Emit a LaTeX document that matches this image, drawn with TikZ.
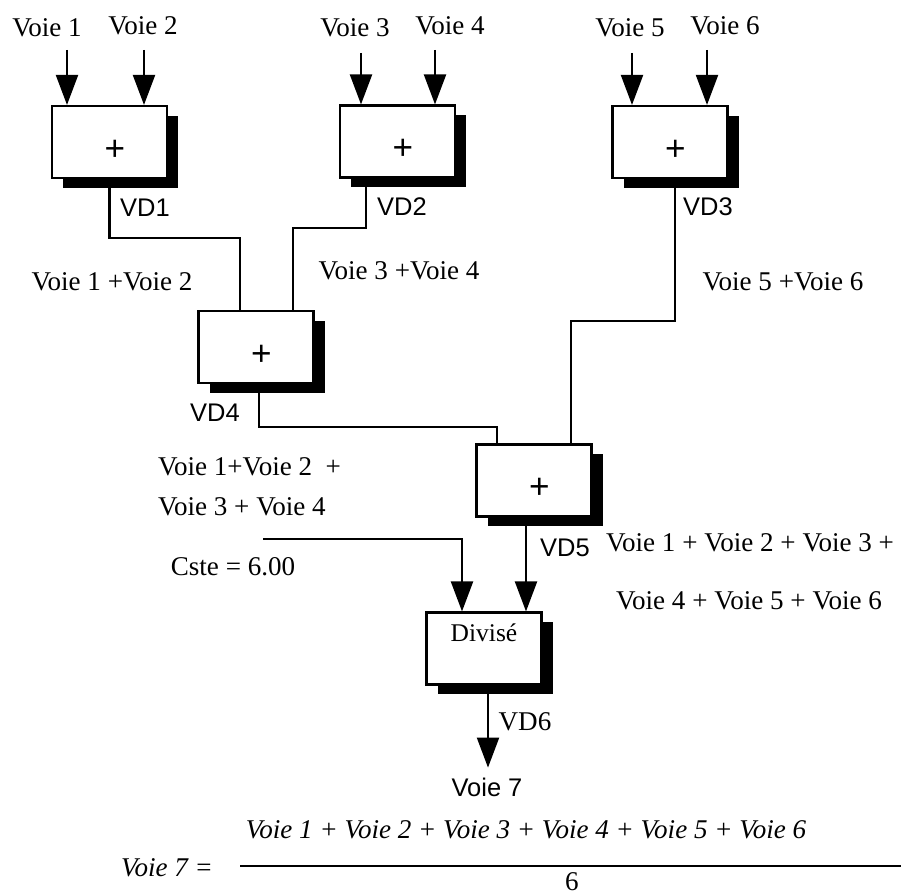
\documentclass[tikz,border=0pt]{standalone}
\usepackage{fontspec}
\setmainfont{Liberation Serif}
\setsansfont{Liberation Sans}
\usetikzlibrary{arrows.meta,shadows}
\newcommand{\plusmark}{\kern6pt\raisebox{-4.5pt}[\height][\depth]{\sffamily\fontsize{20}{24}\selectfont +}}
\begin{document}
\begin{tikzpicture}
[
 line width=1.2pt,
 BX/.style={rectangle, draw=black, fill=white, minimum width=2.3cm, minimum height=1.44cm, inner sep=0pt,
   drop shadow={shadow xshift=2.2mm, shadow yshift=-2mm, fill=black, opacity=1}},
 TR/.style={inner sep=0pt, font=\fontsize{15.4}{18}\selectfont},
 TS/.style={inner sep=0pt, font=\sffamily\fontsize{14.5}{17}\selectfont},
 TI/.style={inner sep=0pt, font=\itshape\fontsize{15.4}{18}\selectfont},
 AR/.style={-{Triangle[width=4.4mm,length=6mm]}}
 ]
\useasboundingbox (0,0) rectangle (18.02,17.9);
%
\node [BX]  (B1)  at ( 2.19, 15.06)  {\plusmark};
\node [BX]  (B2)  at ( 7.95, 15.07)  {\plusmark};
\node [BX]  (B3)  at (13.40, 15.06)  {\plusmark};
\node [BX]  (B4)  at ( 5.12, 10.96)  {\plusmark};
\node [BX]  (B5)  at (10.68,  8.29)  {\plusmark};
\node [BX]  (B6)  at ( 9.68,  4.93)  {\raisebox{8.8pt}[\height][\depth]{\fontsize{14.5}{17}\selectfont Divisé}};
%
\node [TR]  (V1)  at ( 0.94, 17.34)  {Voie 1};
\node [TR]  (V2)  at ( 2.86, 17.38)  {Voie 2};
\node [TR]  (V3)  at ( 7.10, 17.34)  {Voie 3};
\node [TR]  (V4)  at ( 9.00, 17.38)  {Voie 4};
\node [TR]  (V5)  at (12.60, 17.34)  {Voie 5};
\node [TR]  (V6)  at (14.50, 17.38)  {Voie 6};
%
\coordinate (A1) at ( 1.34, 16.9);
\coordinate (A2) at ( 2.88, 16.9);
\coordinate (A3) at ( 7.22, 16.84);
\coordinate (A4) at ( 8.70, 16.9);
\coordinate (A5) at (12.64, 16.84);
\coordinate (A6) at (14.14, 16.9);
\draw [AR]  (A1) -- (A1 |- B1.north);
\draw [AR]  (A2) -- (A2 |- B1.north);
\draw [AR]  (A3) -- (A3 |- B2.north);
\draw [AR]  (A4) -- (A4 |- B2.north);
\draw [AR]  (A5) -- (A5 |- B3.north);
\draw [AR]  (A6) -- (A6 |- B3.north);
%
\node [TS]  (D1)  at ( 2.90, 13.74)  {VD1};
\node [TS]  (D2)  at ( 8.04, 13.76)  {VD2};
\node [TS]  (D3)  at (14.16, 13.76)  {VD3};
\node [TS]  (D4)  at ( 4.30,  9.64)  {VD4};
\node [TS]  (D5)  at (11.30,  6.94)  {VD5};
\node [TR]  (D6)  at (10.50,  3.46)  {VD6};
%
\node [TR]  (S12) at ( 2.24, 12.26)  {Voie 1 +Voie 2};
\node [TR]  (S34) at ( 7.98, 12.48)  {Voie 3 +Voie 4};
\node [TR]  (S56) at (15.66, 12.26)  {Voie 5 +Voie 6};
\node [TR, anchor=west]  (S4a) at ( 3.14,  8.56)  {Voie 1+Voie 2~ +};
\node [TR, anchor=west]  (S4b) at ( 3.14,  7.76)  {Voie 3 + Voie 4};
\node [TR]  (S6a) at (15.00,  7.04)  {Voie 1 + Voie 2 + Voie 3 +};
\node [TR]  (S6b) at (14.98,  5.88)  {Voie 4 + Voie 5 + Voie 6};
\node [TR]  (CS)  at ( 4.66,  6.56)  {Cste = 6.00};
%
\coordinate (O1) at (B1.south);
\coordinate (O2) at ([xshift=-6.3mm]B2.south);
\coordinate (O3) at ([xshift=1mm]B3.south);
\coordinate (O4) at ([xshift=0.6mm]B4.south);
\coordinate (O5) at ([xshift=-1.6mm]B5.south);
\coordinate (O6) at ([xshift=0.8mm]B6.south);
\coordinate (J1) at ( 4.80, 13.14);
\coordinate (J2) at ( 5.86, 13.34);
\coordinate (J3) at (11.42, 11.48);
\coordinate (J4) at ( 9.94,  9.36);
\coordinate (C0) at ( 5.26,  7.12);
\coordinate (C1) at ( 9.24,  7.12);
%
\draw  (O1) |- (J1) -- (J1 |- B4.north);
\draw  (O2) |- (J2) -- (J2 |- B4.north);
\draw  (O3) |- (J3) -- (J3 |- B5.north);
\draw  (O4) |- (J4) -- (J4 |- B5.north);
\draw [AR]  (O5) -- (O5 |- B6.north);
\draw [AR]  (C0) -- (C1) -- (C1 |- B6.north);
%
\node [TS]  (V7)  at ( 9.74,  2.16)  {Voie 7};
\draw [AR, shorten >=1.8mm]  (O6) -- (O6 |- V7.north);
%
\node [TI]  (F1)  at (10.52,  1.30)  {Voie 1 + Voie 2 + Voie 3 + Voie 4 + Voie 5 + Voie 6};
\node [TI]  (F0)  at ( 3.34,  0.54)  {Voie 7 =};
\node [TR]  (F2)  at (11.44,  0.27)  {6};
\draw  (4.80, 0.58) -- (18.02, 0.58);
%
\end{tikzpicture}
\end{document}
